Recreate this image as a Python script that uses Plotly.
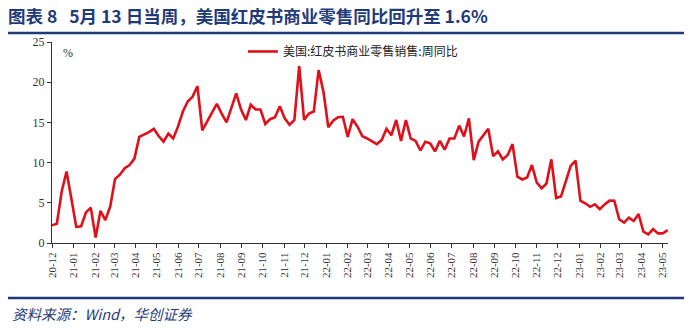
import pandas as pd
import plotly.graph_objects as go

# Weekly Redbook YoY (%), weeks ending Saturday, 2020-12-05 .. 2023-05-13
redbook_yoy = [
    2.2, 2.4, 6.4, 8.9, 5.5, 2.0, 2.07, 3.8, 4.4, 0.67,
    4.0, 2.85, 4.5, 7.95, 8.5, 9.3, 9.7, 10.5, 13.2, 13.45,
    13.8, 14.2, 13.3, 12.6, 13.6, 13.0, 14.5, 16.35, 17.6, 18.2,
    19.5, 14.0, 15.1, 16.2, 17.3, 16.1, 15.0, 16.8, 18.6, 16.6,
    15.3, 17.2, 16.6, 16.6, 14.8, 15.4, 15.65, 17.0, 15.5, 14.7,
    15.3, 22.0, 15.3, 16.1, 16.35, 21.5, 18.8, 14.4, 15.2, 15.65,
    15.7, 13.2, 15.4, 14.5, 13.3, 13.0, 12.6, 12.3, 12.8, 14.2,
    13.4, 15.3, 12.7, 15.3, 13.0, 12.7, 11.5, 12.6, 12.4, 11.4,
    12.7, 11.6, 13.0, 13.0, 14.6, 13.25, 15.5, 10.3, 12.6, 13.45,
    14.2, 10.8, 11.4, 10.4, 10.95, 12.3, 8.26, 7.9, 8.15, 9.7,
    7.5, 6.8, 7.4, 10.4, 5.6, 5.8, 7.6, 9.6, 10.25, 5.27,
    4.94, 4.5, 4.8, 4.2, 4.8, 5.27, 5.25, 2.95, 2.53, 3.15,
    2.74, 3.6, 1.4, 1.08, 1.74, 1.2, 1.2, 1.6,
]
first_week = "2020-12-05"
week_dates = pd.date_range(first_week, periods=len(redbook_yoy), freq="7D")

tick_labels = [
    "20-12", "21-01", "21-02", "21-03", "21-04", "21-05", "21-06", "21-07",
    "21-08", "21-09", "21-10", "21-11", "21-12", "22-01", "22-02", "22-03",
    "22-04", "22-05", "22-06", "22-07", "22-08", "22-09", "22-10", "22-11",
    "22-12", "23-01", "23-02", "23-03", "23-04", "23-05",
]
tick_dates = [pd.Timestamp(f"20{t[:2]}-{t[3:]}-05") for t in tick_labels]

y_ticks = [0, 5, 10, 15, 20, 25]
series_name = "美国:红皮书商业零售销售:周同比"
title_text = "图表 8 &nbsp; 5月 13 日当周，美国红皮书商业零售同比回升至 1.6%"
source_text = "资料来源：Wind，华创证券"

NAVY = "#1F3A7A"
RED = "#E0101A"
SERIF = "Liberation Serif, Times New Roman, serif"
CJK = "Noto Sans CJK SC, sans-serif"

fig = go.Figure()
fig.add_trace(go.Scatter(
    x=week_dates, y=redbook_yoy, mode="lines", name=series_name,
    line=dict(color=RED, width=2.6),
))

fig.update_layout(
    width=700, height=332,
    margin=dict(l=52, r=32, t=42, b=89),
    paper_bgcolor="white", plot_bgcolor="white",
    showlegend=True,
    legend=dict(
        x=0.31, y=1.025, xanchor="left", yanchor="top",
        font=dict(family=CJK, size=12, color="#222"),
        bgcolor="rgba(0,0,0,0)", itemwidth=30,
    ),
    title=dict(
        text="<b>" + title_text + "</b>",
        x=8 / 700, xanchor="left", y=1 - 17 / 332, yanchor="middle",
        font=dict(family=CJK, size=17.5, color=NAVY),
    ),
    xaxis=dict(
        type="date",
        range=[week_dates[0], week_dates[-1] + pd.Timedelta(hours=12)],
        tickvals=tick_dates, ticktext=tick_labels, tickangle=-90,
        showgrid=False, zeroline=False,
        showline=True, linecolor="#333", linewidth=1,
        ticks="outside", ticklen=4, tickcolor="#333",
        tickfont=dict(family=SERIF, size=11, color="#333"),
    ),
    yaxis=dict(
        range=[0, 25], tickvals=y_ticks,
        showgrid=False, zeroline=False,
        showline=True, linecolor="#333", linewidth=1,
        ticks="outside", ticklen=4, tickcolor="#333",
        tickfont=dict(family=SERIF, size=12, color="#333"),
    ),
)

fig.add_annotation(
    text="%", xref="paper", yref="paper", x=0.015, y=0.945,
    xanchor="left", yanchor="middle", showarrow=False,
    font=dict(family=SERIF, size=12, color="#333"),
)
fig.add_annotation(
    text="<i>" + source_text + "</i>", xref="paper", yref="paper",
    x=(10 - 52) / 616, y=(243 - 313) / 201, xanchor="left", yanchor="middle",
    showarrow=False, font=dict(family=CJK, size=14.5, color=NAVY),
)
for yp in [(243 - 33) / 201, (243 - 298) / 201]:
    fig.add_shape(
        type="line", xref="paper", yref="paper",
        x0=(8 - 52) / 616, x1=(684 - 52) / 616, y0=yp, y1=yp,
        line=dict(color=NAVY, width=2.5),
    )

fig.write_html("out.html")
